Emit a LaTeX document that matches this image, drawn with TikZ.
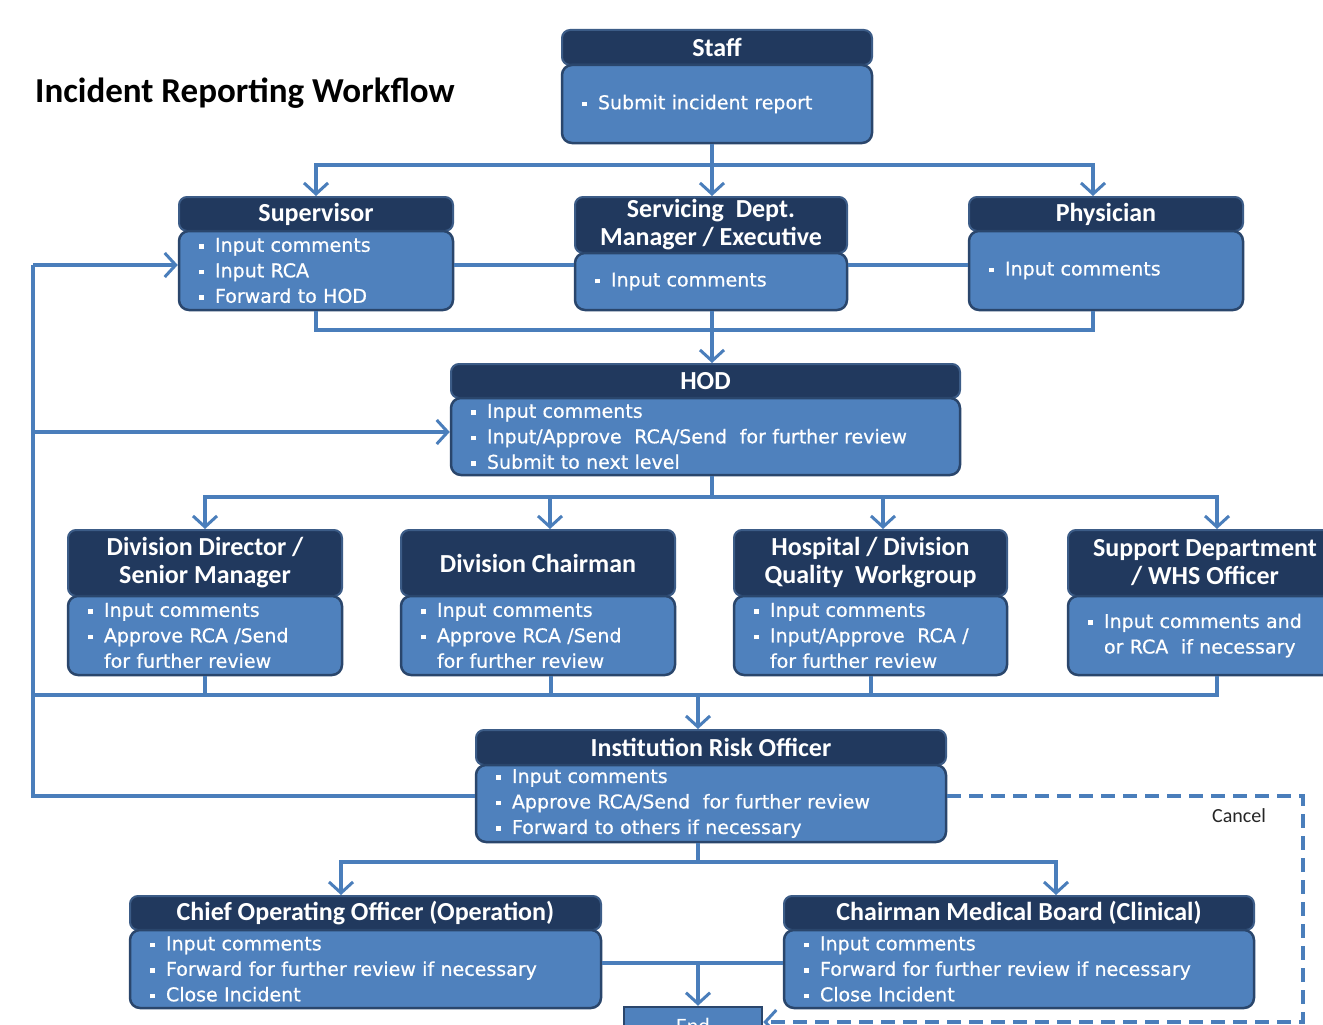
\documentclass[tikz,border=0pt]{standalone}
\usepackage{fontspec}
\newfontfamily\hfont{Carlito}
\newfontfamily\bfontfam{DejaVu Sans}[FakeBold=0.6]
\usetikzlibrary{arrows.meta}
\definecolor{hdrfill}{RGB}{33,57,94}
\definecolor{hdrdraw}{RGB}{60,92,135}
\definecolor{bodfill}{RGB}{79,129,189}
\definecolor{boddraw}{RGB}{42,70,108}
\definecolor{lncol}{RGB}{74,126,187}
\newcommand{\bl}{\makebox[16pt][l]{\raisebox{3pt}{\rule{4.5pt}{4.5pt}}}}
\newcommand{\ind}{\hspace*{16pt}}
\newcommand{\wfbox}[8]{%
 \pgfmathsetmacro\wfw{#3-#2}\pgfmathsetmacro\wfx{(#2+#3)/2}%
 \pgfmathsetmacro\wfhh{#5-#4}\pgfmathsetmacro\wfhy{(#4+#5)/2}%
 \pgfmathsetmacro\wfbh{#6-#5}\pgfmathsetmacro\wfby{(#5+#6)/2}%
 \pgfmathsetmacro\wftw{#3-#2-40}%
 \node[hdr,minimum width=\wfw pt,minimum height=\wfhh pt] (#1h) at (\wfx,\wfhy) {#7};
 \node[bod,minimum width=\wfw pt,minimum height=\wfbh pt,text width=\wftw pt] (#1b) at (\wfx,\wfby) {#8};
}
\tikzset{
 hdr/.style={draw=hdrdraw,fill=hdrfill,rounded corners=8pt,line width=2pt,text=white,
   font=\hfont\bfseries\fontsize{26}{28}\selectfont,align=center,inner sep=0pt},
 bod/.style={draw=boddraw,fill=bodfill,rounded corners=10pt,line width=2.5pt,text=white,
   font=\bfontfam\fontsize{19}{25.5}\selectfont,align=left,inner xsep=20pt,inner ysep=0pt},
 ln/.style={draw=lncol,line width=4pt},
 arr/.style={ln,-{Straight Barb[length=11pt,width=24pt,line width=3pt]}},
 dasharr/.style={ln,dash pattern=on 14pt off 8pt,-{Straight Barb[length=11pt,width=24pt,line width=3pt]}},
}
\begin{document}
\begin{tikzpicture}[x=1pt,y=-1pt]
\useasboundingbox (0,0) rectangle (1323,1025);
\clip (0,0) rectangle (1323,1025);
\fill[white] (0,0) rectangle (1323,1025);

% junction coordinates
\coordinate (t1) at (712,165);
\coordinate (tr) at (1093,165);
\coordinate (m1) at (0,265);
\coordinate (c1) at (712,330);
\coordinate (c2) at (712,497);
\coordinate (d2) at (550,497);
\coordinate (d3) at (883,497);
\coordinate (d4) at (1217,497);
\coordinate (e1) at (33,695);
\coordinate (e2) at (551,695);
\coordinate (e3) at (871,695);
\coordinate (e4) at (1217,695);
\coordinate (e0) at (698,695);
\coordinate (f1) at (33,796);
\coordinate (f2) at (33,265);
\coordinate (f3) at (33,432);
\coordinate (g0) at (698,862);
\coordinate (g1) at (341,862);
\coordinate (g2) at (1056,862);
\coordinate (h0) at (698,963);
\coordinate (k1) at (1303,796);
\coordinate (k2) at (1303,1022);

\node[font=\hfont\bfseries\fontsize{35}{40}\selectfont,anchor=west,inner sep=0pt] (title) at (35,93) {Incident Reporting Workflow};

\wfbox{staff}{562}{872}{30}{65}{143}{Staff}{\bl Submit incident report}
\wfbox{sup}{179}{453}{197}{231}{310}{Supervisor}{\bl Input comments\\\bl Input RCA\\\bl Forward to HOD}
\wfbox{serv}{575}{847}{197}{253}{310}{Servicing\ \ Dept.\\Manager / Executive}{\bl Input comments}
\wfbox{phys}{969}{1243}{197}{231}{310}{Physician}{\bl Input comments}
\wfbox{hod}{451}{960}{364}{398}{475}{HOD}{\bl Input comments\\\bl Input/Approve\ \ RCA/Send\ \ for further review\\\bl Submit to next level}
\wfbox{dd}{68}{342}{530}{596}{675}{Division Director /\\Senior Manager}{\bl Input comments\\\bl Approve RCA /Send\\\ind for further review}
\wfbox{dc}{401}{675}{530}{596}{675}{Division Chairman}{\bl Input comments\\\bl Approve RCA /Send\\\ind for further review}
\wfbox{hq}{734}{1007}{530}{596}{675}{Hospital / Division\\Quality\ \ Workgroup}{\bl Input comments\\\bl Input/Approve\ \ RCA /\\\ind for further review}
\wfbox{sd}{1068}{1342}{530}{596}{675}{Support Department\\/ WHS Officer}{\bl Input comments and\\\ind or RCA\ \ if necessary}
\wfbox{iro}{476}{946}{730}{765}{842}{Institution Risk Officer}{\bl Input comments\\\bl Approve RCA/Send\ \ for further review\\\bl Forward to others if necessary}
\wfbox{coo}{130}{601}{896}{930}{1008}{Chief Operating Officer (Operation)}{\bl Input comments\\\bl Forward for further review\ if necessary\\\bl Close Incident}
\wfbox{cmb}{784}{1254}{896}{930}{1008}{Chairman Medical Board (Clinical)}{\bl Input comments\\\bl Forward for further review\ if necessary\\\bl Close Incident}
\node[bod,rounded corners=0pt,minimum width=138pt,minimum height=38pt,align=center,inner xsep=0pt,
  font=\hfont\fontsize{22}{24}\selectfont] (endn) at (693,1026) {End};

\node[font=\hfont\fontsize{20}{22}\selectfont,inner sep=0pt,text=black!85] (cancel) at (1239,816) {Cancel};

% connectors
\draw[arr] (staffb.south -| t1) -- (servh.north -| t1);
\draw[arr] (t1) -| (suph.north);
\draw[arr] (t1) -| (physh.north -| tr);
\draw[ln] (supb.east |- m1) -- (servb.west |- m1);
\draw[ln] (servb.east |- m1) -- (physb.west |- m1);
\draw[ln] (supb.south) |- (c1) -| (physb.south -| tr);
\draw[arr] (servb.south -| c1) -- (hodh.north -| c1);

\draw[ln] (hodb.south -| c2) -- (c2);
\draw[arr] (c2) -| (ddh.north);
\draw[arr] (c2) -| (sdh.north -| d4);
\draw[arr] (d2) -- (dch.north -| d2);
\draw[arr] (d3) -- (hqh.north -| d3);

\draw[ln] (ddb.south) -- (ddb.south |- e1);
\draw[ln] (dcb.south -| e2) -- (e2);
\draw[ln] (hqb.south -| e3) -- (e3);
\draw[ln] (sdb.south -| e4) |- (e1);
\draw[arr] (e0) -- (iroh.north -| e0);

\draw[ln] (irob.west |- f1) -- (f1) -- (f2);
\draw[arr] (f2) -- (supb.west |- f2);
\draw[arr] (f3) -- (hodb.west |- f3);

\draw[ln] (irob.south -| g0) -- (g0);
\draw[arr] (g0) -| (cooh.north -| g1);
\draw[arr] (g0) -| (cmbh.north -| g2);

\draw[ln] (coob.east |- h0) -- (cmbb.west |- h0);
\draw[arr] (h0) -- (endn.north -| h0);

\draw[dasharr] (irob.east |- k1) -- (k1) -- (k2) -- (endn.east |- k2);
\end{tikzpicture}
\end{document}
